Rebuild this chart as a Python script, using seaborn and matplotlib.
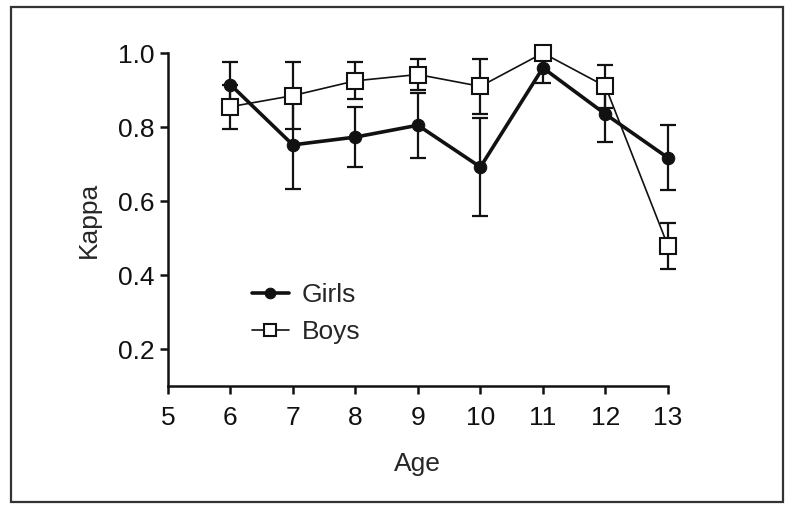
import numpy as np
import matplotlib
matplotlib.use("Agg")
import matplotlib.pyplot as plt
import seaborn as sns
import pandas as pd
from matplotlib.patches import Rectangle

sns.set_style("ticks")
plt.rcParams['font.family'] = ['Liberation Sans', 'DejaVu Sans']

age = [6, 7, 8, 9, 10, 11, 12, 13]
girls = [0.915, 0.752, 0.773, 0.805, 0.692, 0.960, 0.835, 0.717]
girls_err = [0.060, 0.120, 0.082, 0.088, 0.133, 0.040, 0.075, 0.088]
boys = [0.855, 0.885, 0.925, 0.942, 0.910, 1.000, 0.910, 0.479]
boys_err = [0.060, 0.090, 0.050, 0.042, 0.075, 0.0, 0.058, 0.063]

df = pd.DataFrame({'Age': age * 2,
                   'Kappa': girls + boys,
                   'err': girls_err + boys_err,
                   'Sex': ['Girls'] * len(age) + ['Boys'] * len(age)})

fig = plt.figure(figsize=(7.99, 5.15), dpi=100)
ax = fig.add_axes([0.21, 0.25, 0.626, 0.647])

g = df[df.Sex == 'Girls']
b = df[df.Sex == 'Boys']
ax.errorbar(g.Age, g.Kappa, yerr=g.err, fmt='none', ecolor='#111111',
            elinewidth=1.6, capsize=6, capthick=1.6, zorder=2, clip_on=False)
ax.errorbar(b.Age, b.Kappa, yerr=b.err, fmt='none', ecolor='#111111',
            elinewidth=1.6, capsize=6, capthick=1.6, zorder=2, clip_on=False)

sns.lineplot(data=g, x='Age', y='Kappa', color='#111111', lw=2.6, marker='o',
             markersize=9, markeredgecolor='#111111', label='Girls', ax=ax,
             zorder=3, clip_on=False)
sns.lineplot(data=b, x='Age', y='Kappa', color='#111111', lw=1.2, marker='s',
             markersize=11, markerfacecolor='white', markeredgecolor='#111111',
             markeredgewidth=1.5, label='Boys', ax=ax, zorder=4, clip_on=False)

ax.set_xlim(5, 13)
ax.set_ylim(0.1, 1.0)
ax.set_xticks(range(5, 14))
ax.set_yticks([0.2, 0.4, 0.6, 0.8, 1.0])
ax.set_yticklabels(['0.2', '0.4', '0.6', '0.8', '1.0'])
ax.set_xlabel('Age', fontsize=19, labelpad=16)
ax.set_ylabel('Kappa', fontsize=19, labelpad=12)
ax.tick_params(labelsize=19, width=1.8, length=6, color='#111111', labelcolor='#111111')
ax.tick_params(axis='x', pad=8)
for s in ['left', 'bottom']:
    ax.spines[s].set_linewidth(1.8)
    ax.spines[s].set_color('#111111')
sns.despine(ax=ax)

ax.legend(loc='upper left', bbox_to_anchor=(0.168, 0.31), frameon=False,
          fontsize=19, handlelength=1.4, handletextpad=0.5, labelspacing=0.5,
          borderpad=0, borderaxespad=0, markerscale=0.85)

fig.patches.append(Rectangle((0.0135, 0.025), 0.966, 0.962, transform=fig.transFigure,
                             fill=False, edgecolor='#333333', lw=1.6))

fig.savefig('out.png', dpi=100)
